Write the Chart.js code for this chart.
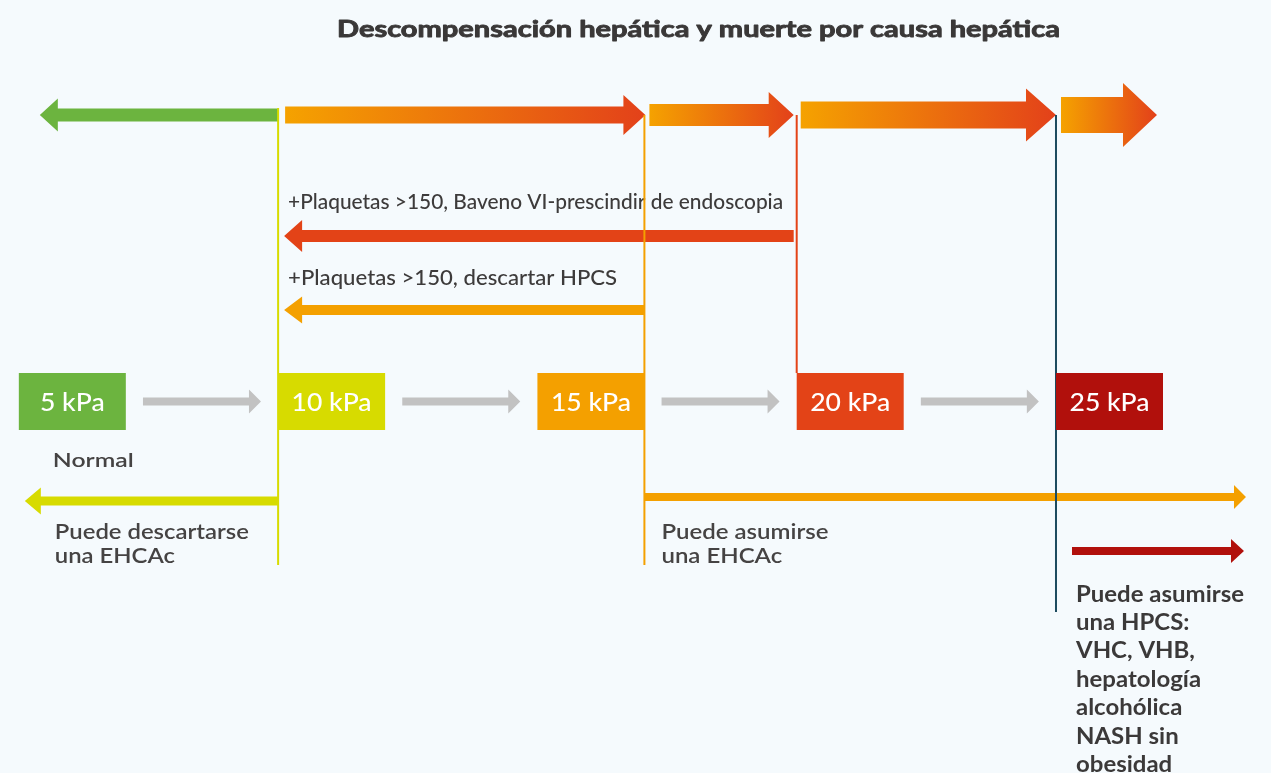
<!DOCTYPE html>
<html>
<head>
<meta charset="utf-8">
<script src="https://cdn.jsdelivr.net/npm/chart.js@4.4.0/dist/chart.umd.min.js"></script>
<style>
html,body{margin:0;padding:0;background:#f5fafd;}
#wrap{width:1271px;height:773px;}
</style>
</head>
<body>
<div id="wrap"><canvas id="c" width="1271" height="773"></canvas></div>
<script>
// ---------------- DATA ----------------
const chartTitle = 'Descompensación hepática y muerte por causa hepática';
const stiffnessKPa = [5, 10, 15, 20, 25];
const stageLabels = ['5 kPa', '10 kPa', '15 kPa', '20 kPa', '25 kPa'];
const plateletNotes = ['+Plaquetas >150, Baveno VI-prescindir de endoscopia', '+Plaquetas >150, descartar HPCS'];
const plateletFromKPa = [20, 15];
const plateletToKPa = [10, 10];
const normalLabel = 'Normal';
const ruleOutLines = ['Puede descartarse', 'una EHCAc'];
const ruleInLines = ['Puede asumirse', 'una EHCAc'];
const cspLines = ['Puede asumirse', 'una HPCS:', 'VHC, VHB,', 'hepatología', 'alcohólica', 'NASH sin', 'obesidad'];

// ---------------- STYLES ----------------
const stageColors = ['#6cb43f', '#d7db00', '#f4a000', '#e34317', '#b1100c'];
const lineColors = {10: '#d7db00', 15: '#f4a000', 20: '#e34317', 25: '#1d4b5f'};
const textColor = '#3d3b3b';
const FONT = 'Lato, "Open Sans", sans-serif';

function arrow(ctx, x0, tip, yc, shaft, head, headL, fill) {
  const d = Math.sign(tip - x0);
  const base = tip - d * headL;
  ctx.beginPath();
  ctx.moveTo(x0, yc - shaft / 2);
  ctx.lineTo(base, yc - shaft / 2);
  ctx.lineTo(base, yc - head / 2);
  ctx.lineTo(tip, yc);
  ctx.lineTo(base, yc + head / 2);
  ctx.lineTo(base, yc + shaft / 2);
  ctx.lineTo(x0, yc + shaft / 2);
  ctx.closePath();
  ctx.fillStyle = fill;
  ctx.fill();
}

function textBlock(ctx, lines, x, y0, lh, font, color, targetW, align, strokeW) {
  ctx.save();
  ctx.font = font;
  ctx.fillStyle = color;
  ctx.strokeStyle = color;
  ctx.textBaseline = 'alphabetic';
  ctx.textAlign = align || 'left';
  const s = targetW ? targetW / ctx.measureText(lines[0]).width : 1;
  lines.forEach((t, i) => {
    ctx.save();
    ctx.translate(x, y0 + i * lh);
    ctx.scale(s, 1);
    ctx.fillText(t, 0, 0);
    if (strokeW) { ctx.lineWidth = strokeW; ctx.lineJoin = 'round'; ctx.strokeText(t, 0, 0); }
    ctx.restore();
  });
  ctx.restore();
}

const diagram = {
  id: 'diagram',
  beforeDraw(chart) {
    const ctx = chart.ctx;
    ctx.save();
    ctx.fillStyle = '#f5fafd';
    ctx.fillRect(0, 0, chart.width, chart.height);
    ctx.restore();
  },
  afterDatasetsDraw(chart) {
    const ctx = chart.ctx;
    const xs = chart.scales.x, ys = chart.scales.y;
    const X = v => xs.getPixelForValue(v);
    const Y = v => ys.getPixelForValue(v);
    const boxW = 107;
    const lineX = {10: X(10), 15: X(15) + boxW, 20: X(20), 25: X(25)};
    ctx.save();

    // title
    textBlock(ctx, [chartTitle], 337, Y(37), 0, 'bold 23px ' + FONT, '#3a3838', 723, 'left', 0.9);

    // top progression arrows
    const grad = (a, b) => { const g = ctx.createLinearGradient(a, 0, b, 0); g.addColorStop(0, '#f5a200'); g.addColorStop(1, '#e3411a'); return g; };
    arrow(ctx, lineX[10], X(5) + 21, Y(115), 13, 33, 18, stageColors[0]);
    const tops = [
      [lineX[10] + 7, lineX[15] + 1, 17, 40, 22],
      [lineX[15] + 5, lineX[20] - 3, 22, 46, 25],
      [lineX[20] + 4, lineX[25], 27, 53, 30],
      [lineX[25] + 5, lineX[25] + 101, 36, 64, 34]
    ];
    tops.forEach(t => arrow(ctx, t[0], t[1], Y(115), t[2], t[3], t[4], grad(t[0], t[1])));

    // platelet arrows + notes
    const pY = [236, 310], pShaft = [12, 10], pHead = [32, 27], pCol = [stageColors[3], stageColors[2]], pTxtY = [209, 285];
    plateletNotes.forEach((note, i) => {
      const from = plateletFromKPa[i] === 20 ? lineX[20] - 3 : lineX[plateletFromKPa[i]];
      arrow(ctx, from, lineX[plateletToKPa[i]] + 6, Y(pY[i]), pShaft[i], pHead[i], 18, pCol[i]);
    });
    textBlock(ctx, [plateletNotes[0]], lineX[10] + 10, Y(pTxtY[0]), 0, '500 21.5px ' + FONT, textColor, 495);
    textBlock(ctx, [plateletNotes[1]], lineX[10] + 10, Y(pTxtY[1]), 0, '500 21.5px ' + FONT, textColor, 329);

    // bottom arrows
    arrow(ctx, lineX[10], X(5) + 6, Y(501), 9, 27, 16, stageColors[1]);
    arrow(ctx, lineX[15], lineX[25] + 190, Y(497), 8, 24, 12, stageColors[2]);
    arrow(ctx, lineX[25] + 16, lineX[25] + 188, Y(551), 8, 24, 13, stageColors[4]);

    // vertical threshold lines
    const vl = [[10, 108, 565], [15, 115, 565], [20, 115, 373], [25, 115, 612]];
    ctx.lineWidth = 2;
    vl.forEach(v => {
      ctx.strokeStyle = lineColors[v[0]];
      ctx.beginPath();
      ctx.moveTo(lineX[v[0]], Y(v[1]));
      ctx.lineTo(lineX[v[0]], Y(v[2]));
      ctx.stroke();
    });

    // boxes
    ctx.font = '500 24px ' + FONT;
    const sBox = 80 / ctx.measureText(stageLabels[1]).width;
    stiffnessKPa.forEach((k, i) => {
      const left = X(k);
      ctx.fillStyle = stageColors[i];
      ctx.fillRect(left, Y(373), boxW, Y(430) - Y(373));
      ctx.save();
      ctx.fillStyle = '#ffffff';
      ctx.textAlign = 'center';
      ctx.textBaseline = 'alphabetic';
      ctx.translate(left + boxW / 2, Y(410.5));
      ctx.scale(sBox, 1);
      ctx.fillText(stageLabels[i], 0, 0);
      ctx.restore();
    });

    // grey arrows between boxes
    for (let i = 0; i < stiffnessKPa.length - 1; i++) {
      const gapC = (X(stiffnessKPa[i]) + boxW + X(stiffnessKPa[i + 1])) / 2;
      arrow(ctx, gapC - 59, gapC + 59, Y(401.5), 8, 24, 12, '#c2c2c2');
    }

    // labels
    textBlock(ctx, [normalLabel], X(5) + 34, Y(467), 0, '600 20px ' + FONT, '#454343', 81);
    textBlock(ctx, ruleOutLines, X(5) + 36, Y(539), 24, '600 21px ' + FONT, '#454343', 194);
    textBlock(ctx, ruleInLines, lineX[15] + 17, Y(539), 24, '600 21px ' + FONT, '#454343', 167);
    textBlock(ctx, cspLines, lineX[25] + 20, Y(601.5), 28.4, 'bold 23px ' + FONT, '#3b3939', 168);

    ctx.restore();
  }
};

new Chart(document.getElementById('c'), {
  type: 'scatter',
  data: {
    datasets: [{
      label: 'Rigidez hepática (kPa)',
      data: stiffnessKPa.map(k => ({x: k, y: 401})),
      pointRadius: 0,
      pointHoverRadius: 0
    }]
  },
  options: {
    responsive: false,
    animation: false,
    devicePixelRatio: 1,
    layout: {padding: 0},
    events: [],
    scales: {
      x: {type: 'linear', min: 4.637, max: 29.146, display: false},
      y: {type: 'linear', min: 0, max: 773, reverse: true, display: false}
    },
    plugins: {legend: {display: false}, tooltip: {enabled: false}, title: {display: false}}
  },
  plugins: [diagram]
});
</script>
</body>
</html>
